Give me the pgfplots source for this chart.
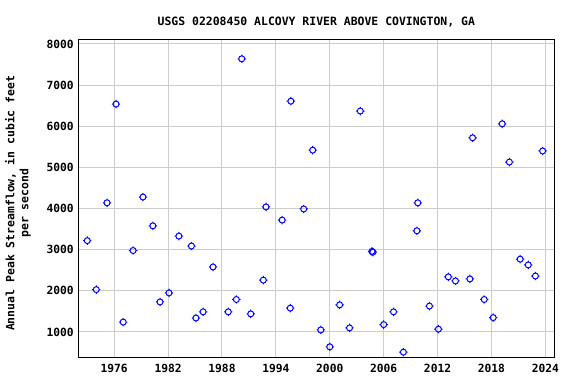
\documentclass[border=0pt]{standalone}
\usepackage{fontspec}
\usepackage{pgfplots}
\pgfplotsset{compat=1.18}
\newfontfamily\monofont[BoldFont={DejaVu Sans Mono Bold}]{DejaVu Sans Mono}
\pgfdeclareplotmark{usgs}{%
  \pgfpathcircle{\pgfpoint{0pt}{0pt}}{\pgfplotmarksize}%
  \pgfpathmoveto{\pgfpoint{0pt}{\pgfplotmarksize}}\pgfpathlineto{\pgfpoint{0pt}{1.4\pgfplotmarksize}}%
  \pgfpathmoveto{\pgfpoint{0pt}{-\pgfplotmarksize}}\pgfpathlineto{\pgfpoint{0pt}{-1.4\pgfplotmarksize}}%
  \pgfpathmoveto{\pgfpoint{\pgfplotmarksize}{0pt}}\pgfpathlineto{\pgfpoint{1.4\pgfplotmarksize}{0pt}}%
  \pgfpathmoveto{\pgfpoint{-\pgfplotmarksize}{0pt}}\pgfpathlineto{\pgfpoint{-1.4\pgfplotmarksize}{0pt}}%
  \pgfusepathqstroke}
\definecolor{gridgray}{RGB}{204,204,204}
\begin{document}
\begin{tikzpicture}
\useasboundingbox (-78.3bp,-26.7bp) rectangle (497.7bp,357.3bp);
\begin{axis}[
  at={(0,0)}, anchor=south west,
  scale only axis,
  width=476bp, height=318bp,
  xmin=1972, xmax=2025,
  ymin=385, ymax=8114,
  xtick={1976,1982,...,2024},
  ytick={1000,2000,...,8000},
  grid=major,
  major grid style={gridgray, line width=1bp},
  major tick length=0pt,
  axis line style={black, line width=1bp},
  /pgf/number format/1000 sep={},
  /pgf/number format/assume math mode=true,
  ticklabel style={font=\monofont\bfseries\fontsize{11.3}{12}\selectfont},
  xticklabel style={yshift=-3bp},
  yticklabel style={xshift=-1bp},
  title={USGS 02208450 ALCOVY RIVER ABOVE COVINGTON, GA},
  title style={font=\monofont\bfseries\fontsize{11.5}{12}\selectfont, yshift=3bp},
  ylabel={Annual Peak Streamflow, in cubic feet\\per second},
  ylabel style={font=\monofont\bfseries\fontsize{11.5}{14}\selectfont, align=center, yshift=9bp, xshift=-5bp},
]
\addplot[only marks, mark=usgs, mark size=3bp, draw=blue, line width=1bp] coordinates {
(1973.0,3220) (1974.0,2030) (1975.2,4140) (1976.2,6540) (1977.0,1240)
(1978.1,2980) (1979.2,4280) (1980.3,3580) (1981.1,1730) (1982.1,1950)
(1983.2,3330) (1984.6,3090) (1985.1,1340) (1985.9,1490) (1987.0,2580)
(1988.7,1490) (1989.6,1790) (1990.2,7640) (1991.2,1440) (1992.6,2260)
(1992.9,4040) (1994.7,3720) (1995.6,1580) (1995.67,6610) (1997.1,3990)
(1998.1,5420) (1999.0,1050) (2000.0,640) (2001.1,1660) (2002.2,1100)
(2003.4,6370) (2004.7,2960) (2004.8,2940) (2006.0,1180) (2007.1,1490)
(2008.2,510) (2009.7,3460) (2009.8,4140) (2011.1,1630) (2012.1,1070)
(2013.2,2340) (2014.0,2240) (2015.6,2290) (2015.9,5720) (2017.2,1790)
(2018.2,1350) (2019.2,6060) (2020.0,5130) (2021.2,2770) (2022.1,2630)
(2022.9,2360) (2023.7,5400)
};
\end{axis}
\end{tikzpicture}
\end{document}
